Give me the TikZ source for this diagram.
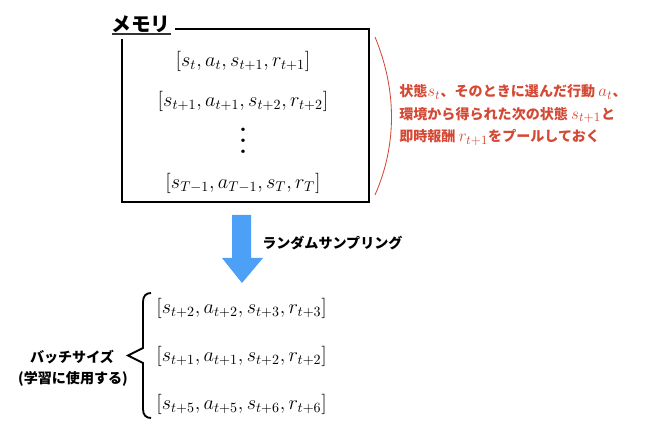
\documentclass[tikz,border=0pt]{standalone}
\usepackage{fontspec}
\newfontfamily\jp{Noto Sans CJK JP}
\definecolor{poolred}{RGB}{212,72,52}
\definecolor{sampleblue}{RGB}{76,160,245}
\newcommand\notemath[1]{{\fontsize{12.5}{16}\selectfont$#1$}}
\newcommand\tallvdots{\vbox{\baselineskip=8pt\lineskiplimit=0pt\hbox{.}\hbox{.}\hbox{.}}}
\begin{document}
\begin{tikzpicture}[
    x=0.025cm,y=-0.025cm,
    tuple/.style={inner sep=0pt,font=\fontsize{14}{16}\selectfont},
    jlabel/.style={inner sep=0pt,font=\jp\bfseries\fontsize{10}{12}\selectfont},
    memlabel/.style={fill=white,inner sep=0pt,minimum width=1.7cm,minimum height=0.75cm,font=\jp\bfseries\fontsize{14}{16}\selectfont},
    note/.style={inner sep=0pt,align=left,text=poolred,font=\jp\bfseries\fontsize{10}{16}\selectfont},
    frame/.style={draw=black,line width=1.6pt},
    brace/.style={draw=black,line width=1.3pt,line join=miter},
    poolarc/.style={draw=poolred,line width=0.6pt}
]
    \useasboundingbox (0,0) rectangle (652,438);

    % memory box
    \draw[frame] (122,29) rectangle (369,202);
    \node[memlabel] (mem) at (141,24) {メモリ};
    \draw[line width=1.2pt,black!80] (112,34) -- (171,34);

    \node[tuple] (m1) at (243,61) {$[s_t, a_t, s_{t+1}, r_{t+1}]$};
    \node[tuple] (m2) at (243,101) {$[s_{t+1}, a_{t+1}, s_{t+2}, r_{t+2}]$};
    \node[tuple,font=\bfseries\fontsize{17}{17}\selectfont] (m3) at (243,141) {\tallvdots};
    \node[tuple] (m4) at (243,183) {$[s_{T-1}, a_{T-1}, s_T, r_T]$};

    % note on the right
    \draw[poolarc] (375,37) .. controls (397,90) and (397,145) .. (375,195);
    \node[note,anchor=west] (pool) at (399,115) {状態\notemath{s_t}、そのときに選んだ行動 \notemath{a_t}、\\環境から得られた次の状態 \notemath{s_{t+1}}と\\即時報酬 \notemath{r_{t+1}}をプールしておく};

    % sampling arrow
    \fill[sampleblue] (232,215) -- (251,215) -- (251,258) -- (263,258) -- (242,283) -- (222,258) -- (232,258) -- cycle;
    \node[jlabel,anchor=west] (samp) at (262,243) {ランダムサンプリング};

    % batch
    \node[tuple,anchor=west] (b1) at (156,308) {$[s_{t+2}, a_{t+2}, s_{t+3}, r_{t+3}]$};
    \node[tuple,anchor=west] (b2) at (156,356) {$[s_{t+1}, a_{t+1}, s_{t+2}, r_{t+2}]$};
    \node[tuple,anchor=west] (b3) at (156,404) {$[s_{t+5}, a_{t+5}, s_{t+6}, r_{t+6}]$};
    \draw[brace] (151,293) .. controls (146,293) and (143,296) .. (143,302) -- (143,348) -- (128,355.5) -- (143,363) -- (143,409) .. controls (143,415) and (146,418) .. (151,418);

    \node[jlabel] (bs) at (72,357) {バッチサイズ};
    \node[jlabel] (bsuse) at (73,379) {(学習に使用する)};
\end{tikzpicture}
\end{document}
